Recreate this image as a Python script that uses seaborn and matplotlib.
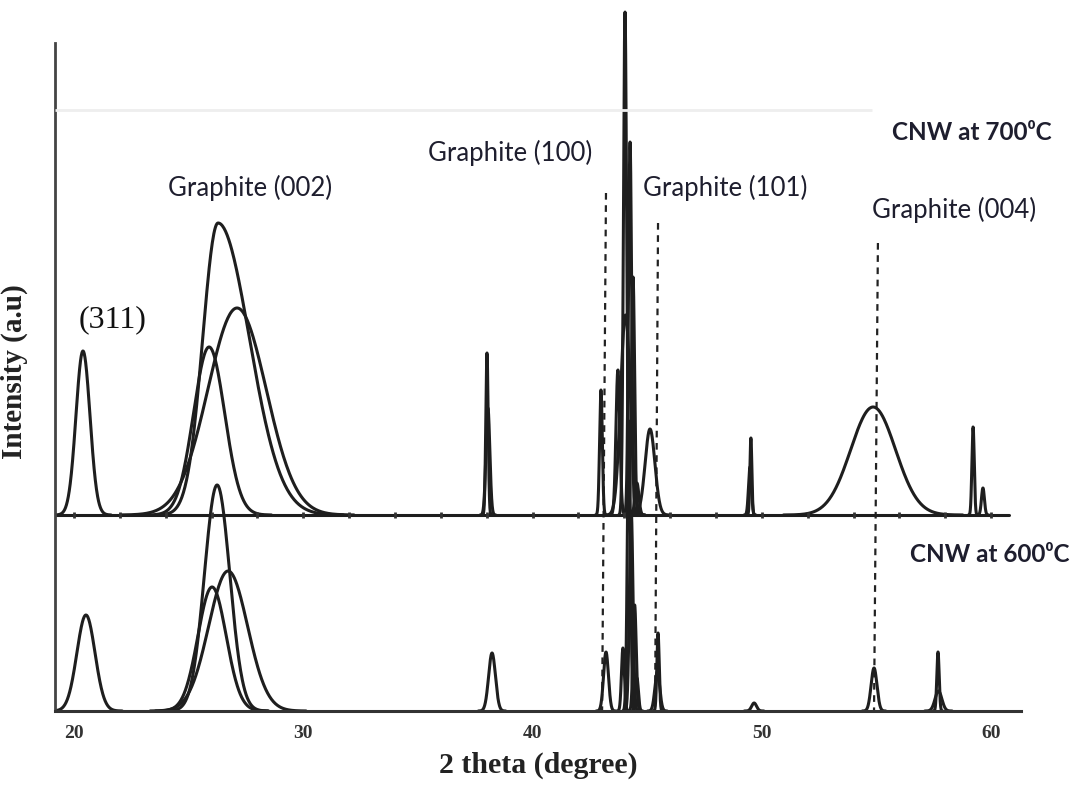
import numpy as np
import pandas as pd
import matplotlib
matplotlib.use("Agg")
import matplotlib.pyplot as plt
import seaborn as sns

# ---- peak tables (2theta in degree, intensity in a.u.) ----
# CNW at 700 C  (stacked on top, baseline offset below)
top_center = [20.39, 26.28, 25.89, 27.11, 38.01, 38.05, 42.98, 43.72, 44.03, 44.25,
              44.38, 44.05, 44.55, 45.12, 49.52, 49.48, 54.85, 59.21, 59.64]
top_height = [164, 292, 168, 207, 162, 107, 125, 145, 503, 373,
              238, 200, 32, 86, 77, 48, 108, 88, 27]
top_fwhm_l = [0.72, 1.57, 1.60, 3.00, 0.12, 0.20, 0.14, 0.20, 0.16, 0.16,
              0.16, 0.50, 0.20, 0.50, 0.10, 0.15, 2.30, 0.12, 0.15]
top_fwhm_r = [0.72, 3.22, 1.60, 3.00, 0.12, 0.20, 0.14, 0.20, 0.16, 0.16,
              0.16, 0.50, 0.20, 0.50, 0.10, 0.15, 2.30, 0.12, 0.15]
top_offset = 196

# CNW at 600 C
bot_center = [20.52, 26.24, 26.02, 26.72, 38.23, 43.20, 43.94, 44.20, 44.30, 44.45,
              44.55, 45.47, 45.44, 49.66, 54.89, 57.68, 57.70]
bot_height = [96, 226, 124, 140, 58, 59, 63, 290, 200, 106,
              33, 78, 39, 8, 43, 59, 20]
bot_fwhm = [0.93, 1.30, 1.45, 2.00, 0.35, 0.25, 0.15, 0.16, 0.18, 0.16,
            0.15, 0.12, 0.25, 0.25, 0.30, 0.12, 0.35]

# reference lines (dashed): top x, bottom x, top y
ref_x_top = [43.20, 45.47, 55.06]
ref_x_bot = [43.03, 45.34, 54.89]
ref_y_top = [518, 488, 468]

XMIN, XMAX = 19.17, 61.30
TOP_END = 60.78


def peak_curve(c, h, wl, wr, off, n=240):
    sl, sr = wl / 2.3548, wr / 2.3548
    x = np.linspace(c - 4 * sl, c + 4 * sr, n)
    s = np.where(x < c, sl, sr)
    return x, off + h * np.exp(-0.5 * ((x - c) / s) ** 2)


rows = []
cid = 0
for c, h, wl, wr in zip(top_center, top_height, top_fwhm_l, top_fwhm_r):
    x, y = peak_curve(c, h, wl, wr, top_offset)
    rows.append(pd.DataFrame({"two_theta": x, "intensity": y, "curve": cid}))
    cid += 1
for c, h, w in zip(bot_center, bot_height, bot_fwhm):
    x, y = peak_curve(c, h, w, w, 0)
    rows.append(pd.DataFrame({"two_theta": x, "intensity": y, "curve": cid}))
    cid += 1
rows.append(pd.DataFrame({"two_theta": [XMIN, TOP_END], "intensity": [top_offset] * 2, "curve": cid}))
df = pd.concat(rows, ignore_index=True)

sns.set_style("white")
plt.rcParams["font.family"] = ["Liberation Serif", "DejaVu Serif"]

fig = plt.figure(figsize=(10.76, 7.85), dpi=100)
ax = fig.add_axes([55 / 1076, 74 / 785, (1021 - 55) / 1076, 711 / 785])

sns.lineplot(data=df, x="two_theta", y="intensity", units="curve", estimator=None,
             color="#1e1e1e", linewidth=2.2, ax=ax, legend=False)

# dashed guide lines
for xt, xb, yt in zip(ref_x_top, ref_x_bot, ref_y_top):
    ax.plot([xt, xb], [yt, 0], color="#222222", lw=1.6, ls=(0, (3, 2.5)), zorder=1)

# small tick dots on the upper baseline
tk = np.arange(20, 61, 2)
ax.plot(tk, [top_offset] * len(tk), ls="none", marker="|", ms=5, mew=2, color="#333333")

# faint grey line crossing the top of the plot
ax.plot([XMIN, 54.8], [601, 601], color="#eeeeee", lw=2.0, zorder=5, solid_capstyle="butt")

ax.set_xlim(XMIN, XMAX)
ax.set_ylim(0, 711)
ax.set_yticks([])
ax.set_xticks([20, 30, 40, 50, 60])
ax.set_xticks(tk, minor=True)
ax.tick_params(axis="x", which="both", direction="in", length=4, width=2, color="#333333",
               pad=10, labelsize=14)
for lab in ax.get_xticklabels():
    lab.set_fontweight("bold")
    lab.set_color("#333333")

for s in ["top", "right"]:
    ax.spines[s].set_visible(False)
ax.spines["left"].set_bounds(0, 668)
ax.spines["left"].set_linewidth(2)
ax.spines["left"].set_color("#444444")
ax.spines["bottom"].set_linewidth(2.2)
ax.spines["bottom"].set_color("#333333")

ax.set_xlabel("2 theta (degree)", fontsize=21.5, fontweight="bold", color="#222222", labelpad=7)
ax.set_ylabel("Intensity (a.u)", fontsize=21, fontweight="bold", color="#222222")
ax.yaxis.set_label_coords(-0.028, 0.477)

sans = ["Lato", "DejaVu Sans"]
tc = "#1e1e2e"
ax.text(27.68, 523, "Graphite (002)", family=sans, fontsize=18.5, color=tc, ha="center", va="center")
ax.text(39.01, 558, "Graphite (100)", family=sans, fontsize=18.5, color=tc, ha="center", va="center")
ax.text(48.39, 523, "Graphite (101)", family=sans, fontsize=18.5, color=tc, ha="center", va="center")
ax.text(58.38, 501, "Graphite (004)", family=sans, fontsize=18.5, color=tc, ha="center", va="center")
ax.text(59.16, 579, "CNW at 700\u2070C", family=sans, fontsize=17.5, fontweight="bold", color=tc,
        ha="center", va="center")
ax.text(59.95, 156, "CNW at 600\u2070C", family=sans, fontsize=17.5, fontweight="bold", color=tc,
        ha="center", va="center", clip_on=False)
ax.text(21.7, 391, "(311)", fontsize=23, color="#111111", ha="center", va="center")

fig.savefig("out.png", dpi=100)
